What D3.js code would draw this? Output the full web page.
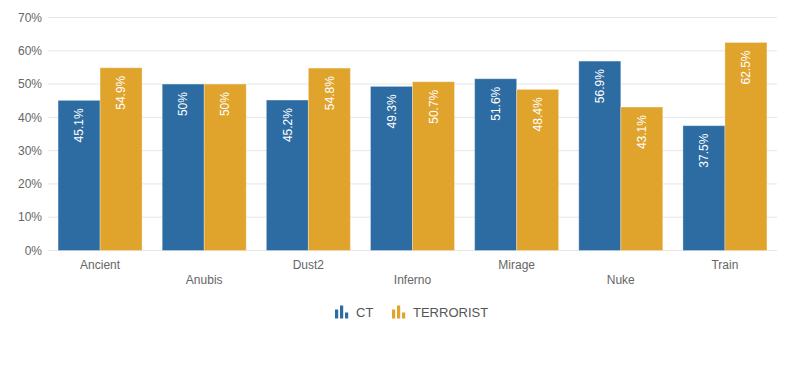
<!DOCTYPE html>
<html>
<head>
<meta charset="utf-8">
<script src="https://cdn.jsdelivr.net/npm/d3@7"></script>
<style>
  body { margin: 0; background: #fff; }
  text { font-family: "Liberation Sans", Arial, sans-serif; }
</style>
</head>
<body>
<div id="chart"></div>
<script>
// data
var maps = ["Ancient", "Anubis", "Dust2", "Inferno", "Mirage", "Nuke", "Train"];
var ctValues = [45.1, 50, 45.2, 49.3, 51.6, 56.9, 37.5];
var tValues = [54.9, 50, 54.8, 50.7, 48.4, 43.1, 62.5];
var seriesNames = ["CT", "TERRORIST"];
var seriesColors = ["#2c6ca3", "#e0a42d"];
var yTicks = [0, 10, 20, 30, 40, 50, 60, 70];

var width = 797, height = 374;
var margin = {left: 48, right: 20, top: 17.5, bottom: 123.5};

var svg = d3.select("#chart").append("svg")
    .attr("width", width)
    .attr("height", height);

var x = d3.scaleBand()
    .domain(maps)
    .range([margin.left, width - margin.right]);

var x1 = d3.scaleBand()
    .domain(seriesNames)
    .range([0, x.bandwidth()])
    .paddingOuter(0.24);

var y = d3.scaleLinear()
    .domain([0, 70])
    .range([height - margin.bottom, margin.top]);

// grid
svg.append("g").selectAll("line")
    .data(yTicks)
    .join("line")
    .attr("x1", margin.left)
    .attr("x2", width - margin.right)
    .attr("y1", d => y(d))
    .attr("y2", d => y(d))
    .attr("stroke", "#e6e6e6")
    .attr("stroke-width", 1);

// y axis labels
svg.append("g").selectAll("text")
    .data(yTicks)
    .join("text")
    .attr("x", margin.left - 6)
    .attr("y", d => y(d))
    .attr("dy", "0.35em")
    .attr("text-anchor", "end")
    .attr("font-size", 12)
    .attr("fill", "#666")
    .text(d => d + "%");

// x labels, staggered
svg.append("g").selectAll("text")
    .data(maps)
    .join("text")
    .attr("x", d => x(d) + x.bandwidth() / 2)
    .attr("y", (d, i) => y(0) + (i % 2 ? 33 : 18))
    .attr("text-anchor", "middle")
    .attr("font-size", 12)
    .attr("fill", "#666")
    .text(d => d);

var rows = maps.map((m, i) => ({map: m, values: [ctValues[i], tValues[i]]}));

var groups = svg.append("g").selectAll("g")
    .data(rows)
    .join("g")
    .attr("transform", d => `translate(${x(d.map)},0)`);

var bars = groups.selectAll("g")
    .data(d => d.values.map((v, j) => ({series: seriesNames[j], value: v, j: j})))
    .join("g");

bars.append("rect")
    .attr("x", d => x1(d.series))
    .attr("width", x1.bandwidth())
    .attr("y", d => y(d.value))
    .attr("height", d => y(0) - y(d.value))
    .attr("fill", d => seriesColors[d.j])
    .attr("stroke", "rgba(255,255,255,0.3)")
    .attr("stroke-width", 1);

bars.append("text")
    .attr("transform", d => `translate(${x1(d.series) + x1.bandwidth() / 2},${y(d.value) + 8}) rotate(-90)`)
    .attr("text-anchor", "end")
    .attr("dy", "0.35em")
    .attr("font-size", 12)
    .attr("fill", "#fff")
    .text(d => d.value + "%");

// legend
var legend = svg.append("g").attr("transform", "translate(335,312)");
var legendX = [0, 57];
seriesNames.forEach(function(name, i) {
    var g = legend.append("g").attr("transform", `translate(${legendX[i]},0)`);
    // little bar-chart glyph
    [[0, 9], [5, 13], [10, 6]].forEach(function(b) {
        g.append("rect")
            .attr("x", b[0])
            .attr("y", 6.5 - b[1])
            .attr("width", 3.2)
            .attr("height", b[1])
            .attr("fill", seriesColors[i]);
    });
    g.append("text")
        .attr("x", 21)
        .attr("y", 0)
        .attr("dy", "0.35em")
        .attr("font-size", 13)
        .attr("fill", "#555")
        .text(name);
});
</script>
</body>
</html>
